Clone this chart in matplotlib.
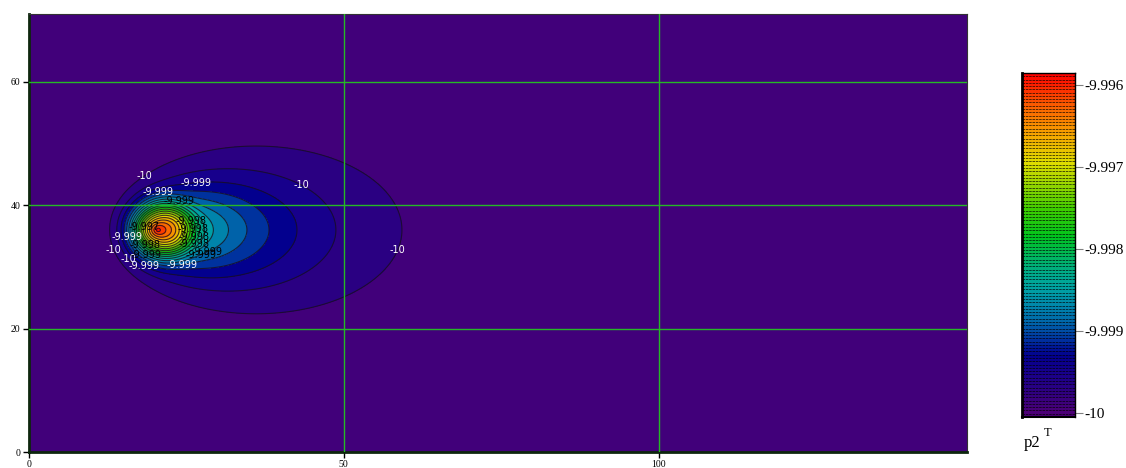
import numpy as np
import matplotlib
matplotlib.use("Agg")
import matplotlib.pyplot as plt
from matplotlib.colors import LinearSegmentedColormap, Normalize

# ---- domain of the matrix plot ----
x_max = 149
y_max = 71

# ---- plume parameters (source position, shape, amplitude) ----
source_x = 20.5
source_y = 36.0
base_level = -10.0
level_step = 0.0002
broad_amp = 13.0      # in units of level_step
broad_len = 5.3
upwind_scale = 6.12
downwind_gain = 1.85
downwind_len = 1.5
core_x = 21.0         # compact core around the source
core_y = 36.0
core_amp = 7.7
core_width = 4.84
core_power = 3.0

# contour levels and colorbar values
contour_levels = base_level + level_step * np.arange(0, 22)
cbar_ticks = [-10.0, -9.999, -9.998, -9.997, -9.996]
cbar_tick_labels = ["-10", "-9.999", "-9.998", "-9.997", "-9.996"]
cbar_top = -9.99585
cbar_bottom = -10.00005
x_ticks = [0, 50, 100]
y_ticks = [0, 20, 40, 60]

# label anchor points: (x, y) per group
white_10_pts = [(18.1, 45.1), (43.6, 43.9), (13.7, 32.8), (15.9, 31.5), (57.9, 33.0)]
white_999_pts = [(26.4, 44.3), (20.5, 42.1), (16.1, 35.0), (18.4, 30.3), (24.3, 30.1)]
black_999_pts = [(23.2, 38.2), (19.2, 33.0), (28.3, 32.4), (27.5, 31.4)]
black_998_pts = [(25.6, 37.4), (25.9, 36.2), (18.9, 34.1), (26.4, 34.8), (26.1, 33.8)]
black_997_pts = [(18.4, 36.4)]

# ---- field ----
xs = np.linspace(0, x_max, 700)
ys = np.linspace(0, y_max, 340)
X, Y = np.meshgrid(xs, ys)


def shape(s):
    up = s / np.sqrt(1 + s / upwind_scale)
    down = s * (1 + downwind_gain * (1 - np.exp(-s / downwind_len)))
    a = 0.5 * (up + down)
    cx = source_x + 0.5 * (down - up)
    return a, s, cx


lo = np.full(X.shape, 1e-6)
hi = np.full(X.shape, 400.0)
for _ in range(70):
    mid = 0.5 * (lo + hi)
    a, b, cx = shape(mid)
    F = ((X - cx) / a) ** 2 + ((Y - source_y) / b) ** 2
    inside = F <= 1
    hi = np.where(inside, mid, hi)
    lo = np.where(inside, lo, mid)
S = 0.5 * (lo + hi)
R_core = np.hypot(X - core_x, Y - core_y)
Z = base_level + level_step * (broad_amp * np.exp(-S / broad_len)
                               + core_amp * np.exp(-(R_core / core_width) ** core_power))

# ---- colormap ----
stops = [
    (0.00, (76, 0, 118)),
    (0.07, (42, 0, 130)),
    (0.12, (22, 0, 140)),
    (0.17, (2, 0, 142)),
    (0.22, (0, 55, 160)),
    (0.265, (0, 100, 170)),
    (0.31, (0, 130, 172)),
    (0.36, (0, 160, 165)),
    (0.41, (0, 172, 140)),
    (0.46, (0, 182, 95)),
    (0.52, (0, 195, 30)),
    (0.60, (60, 205, 0)),
    (0.68, (160, 215, 0)),
    (0.74, (225, 220, 0)),
    (0.82, (245, 165, 0)),
    (0.90, (250, 100, 0)),
    (1.00, (255, 0, 0)),
]
cmap = LinearSegmentedColormap.from_list(
    "plume", [(p, tuple(c / 255 for c in rgb)) for p, rgb in stops])
norm = Normalize(vmin=base_level, vmax=cbar_top)

fig = plt.figure(figsize=(11.26, 4.68), dpi=100)
ax = fig.add_axes([29 / 1126, 16 / 468, 938 / 1126, 438 / 468])

cf = ax.contourf(X, Y, Z, levels=contour_levels, cmap=cmap, norm=norm, extend="max")
cs = ax.contour(X, Y, Z, levels=contour_levels[1:], colors=[(0.1, 0.05, 0.12)],
                linewidths=0.8, alpha=0.8, negative_linestyles="solid")


def fmt(v):
    return ("%.3f" % v).rstrip("0").rstrip(".")


def put_labels(levels, pts, color):
    sub = ax.contour(X, Y, Z, levels=levels, colors="none")
    texts = ax.clabel(sub, levels=levels, manual=pts, fmt=fmt, fontsize=7,
                      colors=color, inline=False)
    for t in texts:
        t.set_rotation(0)


put_labels(contour_levels[[1, 2]], white_10_pts, "white")
put_labels(contour_levels[[3, 4, 5]], white_999_pts, "white")
put_labels(contour_levels[[6, 7]], black_999_pts, "black")
put_labels(contour_levels[[8, 9, 10, 11]], black_998_pts, "black")
put_labels(contour_levels[[14]], black_997_pts, "black")

# grid lines
for gx in x_ticks[1:]:
    ax.axvline(gx, color=(0.15, 0.72, 0.15), lw=1.0, zorder=3)
for gy in y_ticks[1:]:
    ax.axhline(gy, color=(0.15, 0.72, 0.15), lw=1.0, zorder=3)

ax.set_xlim(0, x_max)
ax.set_ylim(0, y_max)
ax.set_xticks(x_ticks)
ax.set_yticks(y_ticks)
ax.tick_params(length=4, width=1, labelsize=7, pad=2)
for lab in ax.get_xticklabels() + ax.get_yticklabels():
    lab.set_family("Liberation Serif")
for side in ["left", "bottom"]:
    ax.spines[side].set_linewidth(2.0)
    ax.spines[side].set_color((0.05, 0.15, 0.05))
for side in ["top", "right"]:
    ax.spines[side].set_linewidth(0.8)
    ax.spines[side].set_color((0.2, 0.2, 0.2))

# ---- colour bar ----
cax = fig.add_axes([1022 / 1126, (468 - 417) / 468, 53 / 1126, 344 / 468])
bounds = np.linspace(cbar_bottom, cbar_top, 106)
mids = 0.5 * (bounds[:-1] + bounds[1:])
cax.pcolormesh([0, 1], bounds, mids[:, None], cmap=cmap, norm=norm)
cax.hlines(bounds[1:-1], 0, 1, colors="black", linewidths=0.6,
           linestyles=(0, (3, 1)), alpha=0.75)
cax.set_xlim(0, 1)
cax.set_ylim(cbar_bottom, cbar_top)
cax.set_xticks([])
cax.yaxis.tick_right()
cax.set_yticks(cbar_ticks)
cax.set_yticklabels(cbar_tick_labels, family="Liberation Serif", fontsize=11)
cax.tick_params(axis="y", length=6, width=0.8, color="gray", pad=1)
cax.spines["left"].set_linewidth(2.0)
cax.spines["right"].set_linewidth(1.0)
cax.spines["top"].set_linewidth(1.0)
cax.spines["bottom"].set_linewidth(1.5)

fig.text(1024 / 1126, 1 - 447 / 468, "p2", family="Liberation Serif", fontsize=12)
fig.text(1044 / 1126, 1 - 436 / 468, "T", family="Liberation Serif", fontsize=9)

fig.savefig("out.png", dpi=100)
